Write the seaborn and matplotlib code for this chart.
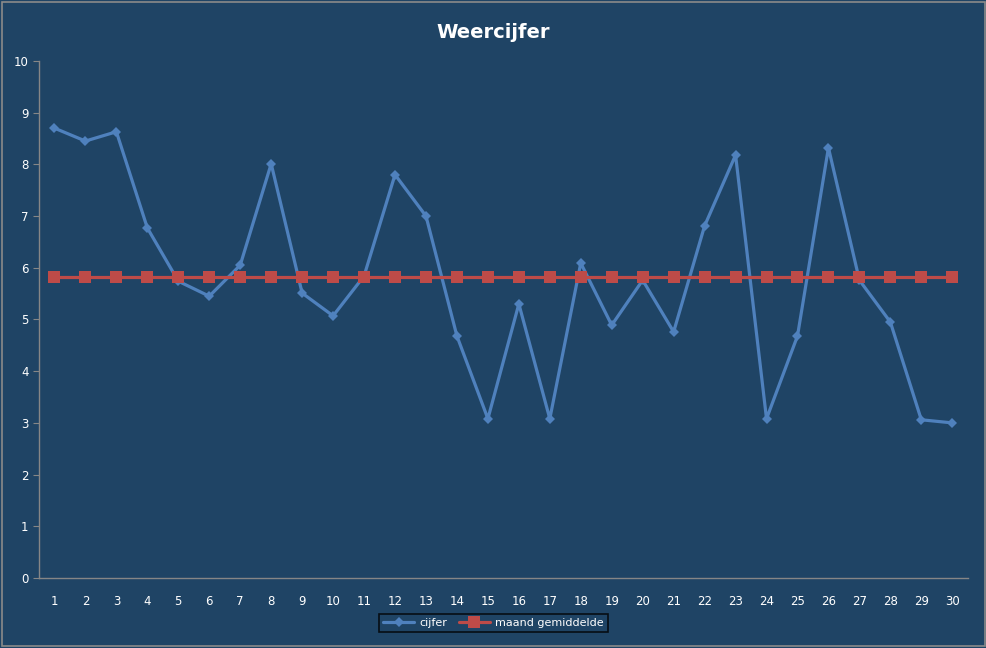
import numpy as np
import pandas as pd
import matplotlib
matplotlib.use("Agg")
import matplotlib.pyplot as plt
import seaborn as sns

dagen = list(range(1, 31))
cijfer = [8.70, 8.45, 8.63, 6.77, 5.74, 5.45, 6.05, 8.01, 5.51, 5.07,
          5.84, 7.80, 7.00, 4.68, 3.08, 5.30, 3.08, 6.09, 4.89, 5.76,
          4.76, 6.81, 8.18, 3.08, 4.68, 8.32, 5.76, 4.95, 3.06, 3.00]
gemiddelde = [5.82] * 30

df = pd.DataFrame({"dag": dagen, "cijfer": cijfer, "maand gemiddelde": gemiddelde})

bg = "#1f4465"
sns.set_style("dark")
plt.rcParams["font.family"] = ["DejaVu Sans"]

fig = plt.figure(figsize=(9.87, 6.48), dpi=100, facecolor=bg)
fig.patches.append(plt.Rectangle((0.002, 0.003), 0.996, 0.994, transform=fig.transFigure,
                                 fill=False, edgecolor="#8a8a8a", linewidth=1.2))
ax = fig.add_axes([0.0395, 0.108, 0.941, 0.798])
ax.set_facecolor(bg)

sns.lineplot(data=df, x="dag", y="cijfer", ax=ax, color="#4f81bd", linewidth=2.3,
             marker="D", markersize=5, markeredgewidth=0, label="cijfer")
sns.lineplot(data=df, x="dag", y="maand gemiddelde", ax=ax, color="#be4b48", linewidth=2.3,
             marker="s", markersize=8, markeredgewidth=0, label="maand gemiddelde")

ax.set_xlim(0.5, 30.5)
ax.set_ylim(0, 10)
ax.set_yticks(range(0, 11))
ax.set_xticks(dagen)
ax.set_xticks(np.arange(0.5, 31, 1), minor=True)
ax.tick_params(axis="x", which="major", length=0, colors="white", labelsize=8.5, pad=12)
ax.tick_params(axis="x", which="minor", length=4, color="#868686", direction="out")
ax.tick_params(axis="y", length=4, color="#868686", direction="out", labelcolor="white",
               labelsize=8.5, left=True)
ax.grid(False)
ax.set_xlabel("")
ax.set_ylabel("")
for s in ["top", "right"]:
    ax.spines[s].set_visible(False)
for s in ["left", "bottom"]:
    ax.spines[s].set_visible(True)
    ax.spines[s].set_color("#868686")
    ax.spines[s].set_linewidth(1)

fig.suptitle("Weercijfer", x=0.5, y=0.965, color="white", fontsize=14, fontweight="bold")

leg = ax.legend(loc="center", bbox_to_anchor=(0.5, 0.0385), bbox_transform=fig.transFigure,
                ncol=2, frameon=True, fontsize=8, handlelength=2.8, columnspacing=1.0,
                handletextpad=0.5, borderpad=0.35, fancybox=False)
leg.get_frame().set_facecolor(bg)
leg.get_frame().set_edgecolor("black")
leg.get_frame().set_linewidth(1.2)
for t in leg.get_texts():
    t.set_color("white")

fig.savefig("out.png", dpi=100, facecolor=bg)
